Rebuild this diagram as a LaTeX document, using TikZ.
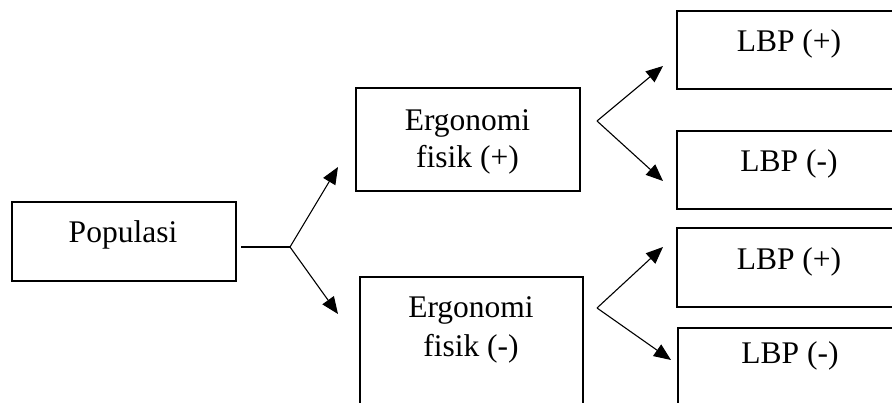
\documentclass[tikz,border=0pt]{standalone}
\usepackage{fontspec}
\setmainfont{Liberation Serif}
\usetikzlibrary{arrows.meta}
\begin{document}
\begin{tikzpicture}[x=1pt,y=-1pt,
  box/.style={draw=black,line width=2pt,inner sep=0pt,minimum width=#1},
  txt/.style={anchor=base,inner sep=0pt,font=\fontsize{31.5}{37}\selectfont},
  conn/.style={line width=1.1pt},
  arr/.style={line width=1.1pt,-{Triangle[length=17pt,width=14pt]}}]
\useasboundingbox (0,0) rectangle (892,403);
\clip (0,0) rectangle (892,403);
% boxes
\node[box=224pt,minimum height=79pt] (pop) at (124,241.5) {};
\node[box=224pt,minimum height=103pt] (erp) at (468,139.5) {};
\node[box=223pt,minimum height=143pt] (erm) at (471.5,348.5) {};
\node[box=233pt,minimum height=78pt] (l1) at (793.5,50) {};
\node[box=233pt,minimum height=78pt] (l2) at (793.5,170) {};
\node[box=233pt,minimum height=79pt] (l3) at (793.5,267.5) {};
\node[box=232pt,minimum height=92pt] (l4) at (794,374) {};
% texts
\node[txt] (popt) at (123,243) {Populasi};
\node[txt] (erpa) at (467.5,131) {Ergonomi};
\node[txt] (erpb) at (467.5,168) {fisik (+)};
\node[txt] (erma) at (471,318) {Ergonomi};
\node[txt] (ermb) at (471,356) {fisik (-)};
\node[txt] (l1t) at (789,52) {LBP (+)};
\node[txt] (l2t) at (789,172) {LBP (-)};
\node[txt] (l3t) at (789,270) {LBP (+)};
\node[txt] (l4t) at (790,363) {LBP (-)};
% connectors
\coordinate (j0) at (290,247);
\coordinate (t1) at (338,167);
\coordinate (t2) at (338,314);
\draw[conn] ([xshift=4pt]pop.east |- j0) -- (j0);
\draw[arr] (j0) -- (t1);
\draw[arr] (j0) -- (t2);
\coordinate (j1) at (597,121);
\coordinate (t3) at (663,66);
\coordinate (t4) at (663,181);
\draw[arr] (j1) -- (t3);
\draw[arr] (j1) -- (t4);
\coordinate (j2) at (597,308);
\coordinate (t5) at (663,247);
\coordinate (t6) at (671,360);
\draw[arr] (j2) -- (t5);
\draw[arr] (j2) -- (t6);
\end{tikzpicture}
\end{document}
